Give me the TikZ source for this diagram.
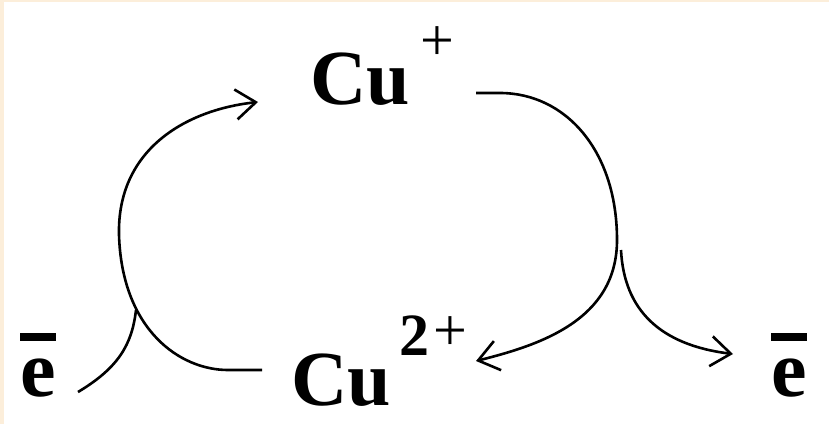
\documentclass[tikz,border=0pt]{standalone}
\usepackage{fontspec}
\setmainfont{Liberation Serif}
\usetikzlibrary{arrows.meta}
\definecolor{cream}{HTML}{FCEEDA}
\newcommand\ebarlabel{\vbox{\hrule height 8pt\kern 17pt\hbox{e}}}
\begin{document}
\begin{tikzpicture}[x=1pt,y=-1pt,
  lbl/.style={anchor=base west,inner sep=0pt,font=\fontsize{78}{80}\selectfont\bfseries},
  elbl/.style={anchor=base west,inner sep=0pt,font=\fontsize{80}{82}\selectfont\bfseries},
  curve/.style={line width=2.6pt,black},
  tip/.style={-{Straight Barb[length=20pt,width=30pt,line width=2.6pt]}}]
\useasboundingbox (0,0) rectangle (829,424);
\fill[cream] (0,0) rectangle (829,424);
\fill[white] (4,2) rectangle (829,424);
% labels
\node[lbl] (cup) at (310,104) {Cu\kern11pt\raisebox{44pt}{\fontsize{60}{60}\selectfont\mdseries +}};
\node[lbl] (cu2) at (291,405) {Cu\kern9pt\raisebox{50pt}{\fontsize{60}{60}\selectfont 2\kern4pt\raisebox{5pt}{\mdseries +}}};
\node[elbl] (el) at (20,396) {\ebarlabel};
\node[elbl] (er) at (771,396) {\ebarlabel};
% named points
\coordinate (a0) at (262,370);
\coordinate (a1) at (228,370);
\coordinate (a2) at (119,235);
\coordinate (a3) at (258,102);
\coordinate (b0) at (476,93);
\coordinate (b1) at (500,93);
\coordinate (fork) at (617,240);
\coordinate (b3) at (476,361);
\coordinate (c0) at (621,250);
\coordinate (c1) at (733,354);
\coordinate (d0) at (78,392);
\coordinate (d1) at (136,310);
% left cycle arc: Cu2+ -> Cu+
\draw[curve,tip] (a0) -- (a1) .. controls (180,370) and (122,330) .. (a2)
  .. controls (117,150) and (185,110) .. (a3);
% incoming electron
\draw[curve] (d0) .. controls (118,368) and (132,345) .. (d1);
% right arc: Cu+ -> Cu2+
\draw[curve,tip] (b0) -- (b1) .. controls (565,93) and (617,150) .. (fork)
  .. controls (617,320) and (540,345) .. (b3);
% outgoing electron
\draw[curve,tip] (c0) .. controls (624,310) and (660,345) .. (c1);
\end{tikzpicture}
\end{document}
